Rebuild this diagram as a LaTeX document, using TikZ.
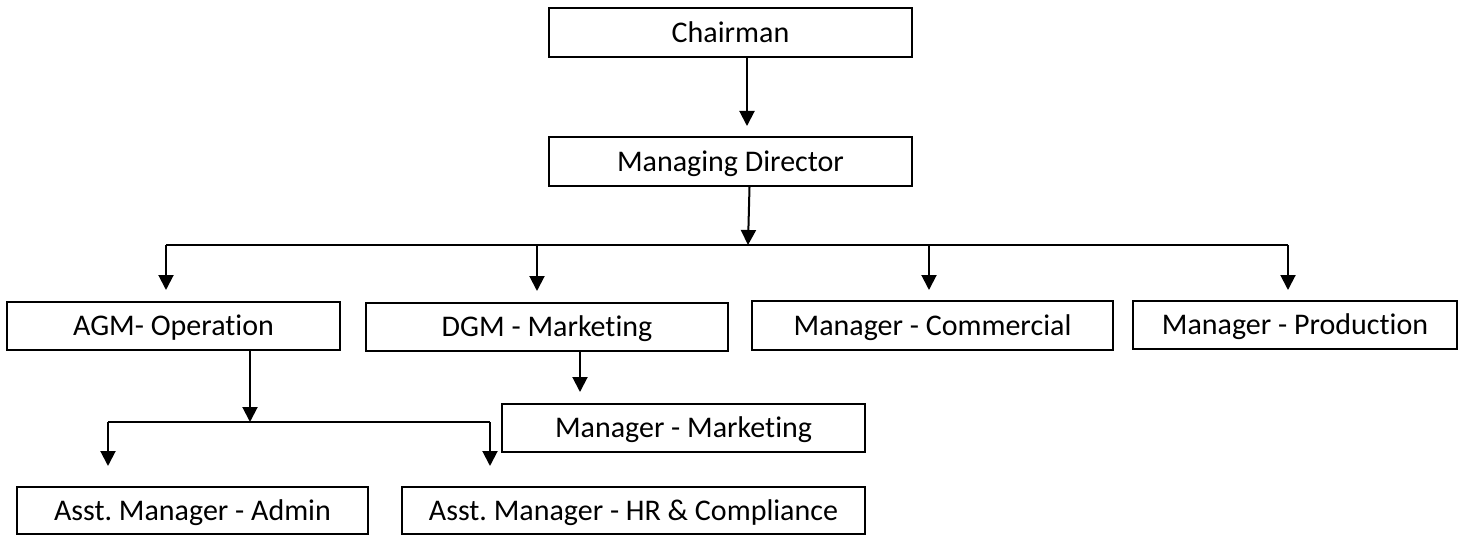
\documentclass[tikz,border=0pt]{standalone}
\usepackage{fontspec}
\setmainfont{Carlito}[Ligatures={NoCommon,NoContextual}]
\usetikzlibrary{arrows.meta}
\tikzset{
  post/.style={draw,line width=1pt,inner sep=0pt,text height=9.6pt,text depth=0pt,font=\fontsize{15}{18}\selectfont\frenchspacing},
  link/.style={line width=0.8pt},
  arr/.style={line width=1pt,-{Triangle[length=7.5pt,width=7.5pt]}}
}
\begin{document}
\begin{tikzpicture}[x=0.5pt,y=-0.5pt]
\useasboundingbox (0,0) rectangle (1463,535);
\node[post,minimum width=181.5pt,minimum height=24.5pt] (chair) at (730.5,32.5) {Chairman};
\node[post,minimum width=181.5pt,minimum height=24.5pt] (md) at (730.5,161.5) {Managing Director};
\node[post,minimum width=166.5pt,minimum height=24pt] (agm) at (173.5,326) {AGM- Operation};
\node[post,minimum width=181pt,minimum height=24pt] (dgm) at (547,327) {DGM - Marketing};
\node[post,minimum width=180.5pt,minimum height=24.5pt] (comm) at (932.5,325.5) {Manager - Commercial};
\node[post,minimum width=162pt,minimum height=24pt] (prod) at (1295,325) {Manager - Production};
\node[post,minimum width=181.5pt,minimum height=24pt] (mkt) at (683.5,428) {Manager - Marketing};
\node[post,minimum width=175.5pt,minimum height=23.5pt] (admin) at (192.5,510.5) {Asst. Manager - Admin};
\node[post,minimum width=231.5pt,minimum height=23.5pt] (hr) at (633.5,510.5) {Asst. Manager - HR \& Compliance};
\coordinate (busA) at (166,245);
\coordinate (busB) at (537,245);
\coordinate (busC) at (929,245);
\coordinate (busD) at (1288,245);
\coordinate (mdbus) at (748,245);
\coordinate (subA) at (108,422);
\coordinate (subB) at (490,422);
\coordinate (agmbus) at (250,422);
\draw[arr,shorten >=5pt] ([xshift=8.25pt]chair.south) -- ([xshift=8.25pt]md.north);
\draw[arr] ([xshift=9.5pt]md.south) -- (mdbus);
\draw[link] (busA) -- (busD);
\draw[arr,shorten >=5.5pt] (busA) -- (busA |- agm.north);
\draw[arr,shorten >=5.5pt] (busB) -- (busB |- dgm.north);
\draw[arr,shorten >=5pt] (busC) -- (busC |- comm.north);
\draw[arr,shorten >=5pt] (busD) -- (busD |- prod.north);
\draw[arr] (agmbus |- agm.south) -- (agmbus);
\draw[link] (subA) -- (subB);
\draw[arr,shorten >=10pt] (subA) -- (subA |- admin.north);
\draw[arr,shorten >=10pt] (subB) -- (subB |- hr.north);
\draw[arr,shorten >=5.5pt] ([xshift=16.5pt]dgm.south) -- ([xshift=16.5pt]dgm.south |- mkt.north);
\end{tikzpicture}
\end{document}
